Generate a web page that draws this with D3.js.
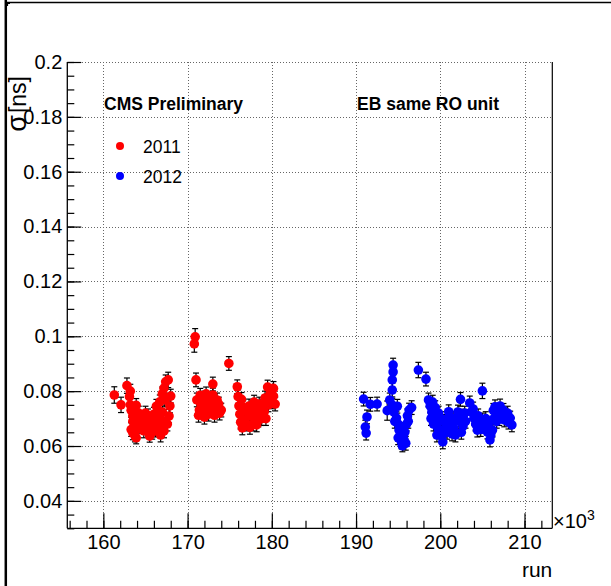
<!DOCTYPE html>
<html>
<head>
<meta charset="utf-8">
<script src="https://cdn.jsdelivr.net/npm/d3@7"></script>
<style>
  body { margin: 0; background: #fff; }
  text { font-family: "Liberation Sans", Arial, Helvetica, sans-serif; }
</style>
</head>
<body>
<div id="chart"></div>
<script>
// Run number (x10^3), sigma [ns], error
var runs2011 = [
  [161.3, 0.0786, 0.0030], [162.1, 0.0750, 0.0028], [162.8, 0.0820, 0.0028], [163.2, 0.0800, 0.0025],
  [163.1, 0.0780, 0.0025], [163.2, 0.0750, 0.0025], [163.3, 0.0730, 0.0025], [163.5, 0.0710, 0.0025],
  [163.5, 0.0690, 0.0025], [163.65, 0.0666, 0.0025], [163.5, 0.0648, 0.0025], [163.75, 0.0637, 0.0022],
  [164.0, 0.0695, 0.0025], [164.0, 0.0660, 0.0025], [164.6, 0.0700, 0.0025], [165.05, 0.0680, 0.0025],
  [165.3, 0.0710, 0.0025], [165.5, 0.0636, 0.0022], [165.5, 0.0666, 0.0025], [165.8, 0.0694, 0.0025],
  [166.0, 0.0716, 0.0025], [166.1, 0.0680, 0.0025], [166.2, 0.0658, 0.0025], [166.5, 0.0700, 0.0025],
  [166.5, 0.0731, 0.0025], [166.7, 0.0673, 0.0025], [166.7, 0.0761, 0.0025], [167.0, 0.0724, 0.0025],
  [167.0, 0.0790, 0.0025], [167.2, 0.0811, 0.0025], [167.4, 0.0834, 0.0025], [167.7, 0.0841, 0.0028],
  [167.3, 0.0768, 0.0025], [167.9, 0.0746, 0.0025], [167.8, 0.0709, 0.0025], [168.0, 0.0782, 0.0025],
  [167.6, 0.0680, 0.0025], [164.3, 0.0672, 0.0025], [164.8, 0.0655, 0.0025], [165.0, 0.0720, 0.0025],
  [165.8, 0.0650, 0.0025], [166.3, 0.0745, 0.0025], [166.9, 0.0695, 0.0025], [164.2, 0.0720, 0.0025],
  [163.9, 0.0748, 0.0025], [165.2, 0.0690, 0.0025], [166.0, 0.0665, 0.0025], [167.2, 0.0655, 0.0025],
  [163.3, 0.0660, 0.0025], [163.9, 0.0630, 0.0022], [166.8, 0.0640, 0.0025],
  [170.9, 0.0998, 0.0030], [170.8, 0.0972, 0.0030], [171.0, 0.0841, 0.0025], [171.1, 0.0768, 0.0025],
  [171.4, 0.0731, 0.0025], [171.6, 0.0753, 0.0025], [171.8, 0.0724, 0.0025], [172.0, 0.0775, 0.0025],
  [172.3, 0.0746, 0.0025], [172.5, 0.0716, 0.0025], [172.8, 0.0761, 0.0025], [173.0, 0.0826, 0.0025],
  [173.0, 0.0786, 0.0025], [173.3, 0.0739, 0.0025], [173.5, 0.0768, 0.0025], [173.7, 0.0753, 0.0025],
  [174.0, 0.0731, 0.0025], [174.9, 0.0901, 0.0025], [171.3, 0.0712, 0.0025], [172.0, 0.0705, 0.0025],
  [172.6, 0.0735, 0.0025], [173.2, 0.0712, 0.0025], [173.8, 0.0720, 0.0025], [171.5, 0.0785, 0.0025],
  [172.2, 0.0790, 0.0025],
  [175.9, 0.0816, 0.0025], [176.0, 0.0780, 0.0025], [176.1, 0.0746, 0.0025], [176.2, 0.0716, 0.0025],
  [176.3, 0.0687, 0.0025], [176.5, 0.0666, 0.0025], [176.8, 0.0695, 0.0025], [177.1, 0.0724, 0.0025],
  [177.3, 0.0746, 0.0025], [177.5, 0.0709, 0.0025], [177.8, 0.0680, 0.0025], [178.0, 0.0702, 0.0025],
  [178.2, 0.0677, 0.0025], [178.2, 0.0731, 0.0025], [178.5, 0.0753, 0.0025], [178.7, 0.0724, 0.0025],
  [178.9, 0.0746, 0.0025], [179.2, 0.0775, 0.0025], [179.5, 0.0815, 0.0025], [179.8, 0.0790, 0.0025],
  [180.0, 0.0761, 0.0025], [180.2, 0.0810, 0.0025], [180.2, 0.0782, 0.0025], [180.4, 0.0753, 0.0025],
  [176.6, 0.0740, 0.0025], [177.0, 0.0680, 0.0025], [177.4, 0.0668, 0.0025], [177.7, 0.0735, 0.0025],
  [178.4, 0.0695, 0.0025], [178.8, 0.0700, 0.0025], [179.1, 0.0725, 0.0025], [179.6, 0.0750, 0.0025],
  [176.4, 0.0770, 0.0025], [177.9, 0.0760, 0.0025], [179.3, 0.0700, 0.0025]
];

var runs2012 = [
  [190.9, 0.0771, 0.0025], [191.3, 0.0706, 0.0025], [191.1, 0.0669, 0.0025], [191.2, 0.0647, 0.0025],
  [191.7, 0.0752, 0.0025], [192.5, 0.0753, 0.0025], [193.7, 0.0729, 0.0035], [194.0, 0.0768, 0.0025],
  [194.3, 0.0804, 0.0025], [194.3, 0.0841, 0.0025], [194.4, 0.0870, 0.0025], [194.4, 0.0895, 0.0025],
  [194.3, 0.0749, 0.0025], [194.5, 0.0724, 0.0025], [194.8, 0.0702, 0.0025], [195.0, 0.0680, 0.0025],
  [195.1, 0.0658, 0.0025], [195.2, 0.0636, 0.0025], [195.4, 0.0615, 0.0025], [195.5, 0.0601, 0.0022],
  [195.7, 0.0622, 0.0025], [195.8, 0.0651, 0.0025], [196.0, 0.0680, 0.0025], [196.1, 0.0710, 0.0025],
  [196.3, 0.0731, 0.0025], [196.6, 0.0740, 0.0025], [197.4, 0.0877, 0.0028], [198.3, 0.0844, 0.0025],
  [194.6, 0.0690, 0.0025], [195.0, 0.0630, 0.0025], [195.3, 0.0660, 0.0025], [195.6, 0.0640, 0.0025],
  [195.9, 0.0610, 0.0025], [196.2, 0.0690, 0.0025], [194.9, 0.0745, 0.0025],
  [198.6, 0.0768, 0.0025], [198.8, 0.0746, 0.0025], [199.0, 0.0724, 0.0025], [199.3, 0.0702, 0.0025],
  [199.5, 0.0680, 0.0025], [199.7, 0.0665, 0.0025], [200.0, 0.0651, 0.0025], [200.2, 0.0636, 0.0025],
  [200.5, 0.0658, 0.0025], [200.7, 0.0680, 0.0025], [200.9, 0.0702, 0.0025], [201.2, 0.0673, 0.0025],
  [201.4, 0.0644, 0.0025], [201.6, 0.0666, 0.0025], [201.9, 0.0695, 0.0025], [202.1, 0.0724, 0.0025],
  [202.4, 0.0770, 0.0025], [202.6, 0.0709, 0.0025], [202.7, 0.0673, 0.0025], [203.0, 0.0690, 0.0025],
  [199.1, 0.0760, 0.0025], [199.4, 0.0740, 0.0025], [199.8, 0.0720, 0.0025], [200.1, 0.0700, 0.0025],
  [200.4, 0.0690, 0.0025], [199.6, 0.0640, 0.0025], [200.3, 0.0615, 0.0025], [200.8, 0.0650, 0.0025],
  [201.0, 0.0725, 0.0025], [201.5, 0.0700, 0.0025], [201.8, 0.0640, 0.0025], [202.3, 0.0690, 0.0025],
  [202.9, 0.0720, 0.0025], [202.5, 0.0650, 0.0025], [199.2, 0.0680, 0.0025], [198.9, 0.0700, 0.0025],
  [203.5, 0.0757, 0.0025], [203.7, 0.0724, 0.0025], [204.0, 0.0702, 0.0025], [204.2, 0.0680, 0.0025],
  [204.4, 0.0658, 0.0025], [204.6, 0.0690, 0.0025], [205.0, 0.0801, 0.0028], [205.0, 0.0695, 0.0025],
  [205.2, 0.0673, 0.0025], [205.6, 0.0651, 0.0025], [205.9, 0.0622, 0.0025], [206.2, 0.0658, 0.0025],
  [206.4, 0.0702, 0.0025], [206.5, 0.0743, 0.0025], [206.9, 0.0724, 0.0025], [207.1, 0.0746, 0.0025],
  [207.3, 0.0716, 0.0025], [207.6, 0.0695, 0.0025], [207.8, 0.0709, 0.0025], [208.1, 0.0687, 0.0025],
  [208.3, 0.0702, 0.0025], [208.5, 0.0677, 0.0025], [203.9, 0.0735, 0.0025], [204.5, 0.0710, 0.0025],
  [204.8, 0.0660, 0.0025], [205.4, 0.0700, 0.0025], [205.7, 0.0680, 0.0025], [206.0, 0.0640, 0.0025],
  [206.7, 0.0690, 0.0025], [207.0, 0.0700, 0.0025], [207.5, 0.0730, 0.0025], [208.0, 0.0720, 0.0025],
  [206.3, 0.0730, 0.0025]
];

var series = [
  { name: "2011", color: "#ff0000", points: runs2011 },
  { name: "2012", color: "#0000ff", points: runs2012 }
];

var xMajorTicks = [160, 170, 180, 190, 200, 210];
var yMajorTicks = [0.04, 0.06, 0.08, 0.1, 0.12, 0.14, 0.16, 0.18, 0.2];

var W = 611, H = 586;
var frame = { left: 67.3, right: 552.3, top: 62, bottom: 528.3 };

var svg = d3.select("#chart").append("svg")
  .attr("width", W).attr("height", H);

// canvas border pieces
svg.append("line").attr("x1", 5.8).attr("x2", 5.8).attr("y1", 0).attr("y2", H)
  .attr("stroke", "#000").attr("stroke-width", 2.5);
svg.append("line").attr("x1", 5).attr("x2", W).attr("y1", 2.5).attr("y2", 2.5)
  .attr("stroke", "#000").attr("stroke-width", 1.5);
svg.append("path").attr("d", "M5,3.5 h5 M7.5,3 v3")
  .attr("stroke", "#000").attr("stroke-width", 1.2).attr("fill", "none");

var x = d3.scaleLinear().domain([155.72, 213.3]).range([frame.left, frame.right]);
var y = d3.scaleLinear().domain([0.03, 0.2]).range([frame.bottom, frame.top]);

// grid
var grid = svg.append("g").attr("stroke", "#666").attr("stroke-width", 1)
  .attr("stroke-dasharray", "1,2").attr("shape-rendering", "crispEdges");
grid.selectAll(".gx").data(xMajorTicks).enter().append("line")
  .attr("x1", d => Math.round(x(d)) + 0.5).attr("x2", d => Math.round(x(d)) + 0.5)
  .attr("y1", frame.top).attr("y2", frame.bottom);
grid.selectAll(".gy").data(yMajorTicks).enter().append("line")
  .attr("x1", frame.left).attr("x2", frame.right)
  .attr("y1", d => Math.round(y(d)) + 0.5).attr("y2", d => Math.round(y(d)) + 0.5);

// right frame edge
svg.append("line").attr("x1", frame.right).attr("x2", frame.right)
  .attr("y1", frame.top).attr("y2", frame.bottom)
  .attr("stroke", "#000").attr("stroke-width", 1.2);

// x axis (ticks pointing inside)
var xAxis = d3.axisBottom(x).tickValues(xMajorTicks).tickSize(-15).tickPadding(7)
  .tickFormat(d3.format("d"));
var xMinor = d3.axisBottom(x).tickValues(d3.range(156, 213.3, 2)).tickSize(-7.5).tickFormat("");
var gxm = svg.append("g").attr("transform", "translate(0," + frame.bottom + ")").call(xMinor);
var gx = svg.append("g").attr("transform", "translate(0," + frame.bottom + ")").call(xAxis);

// y axis
var yAxis = d3.axisLeft(y).tickValues(yMajorTicks).tickSize(-14).tickPadding(5)
  .tickFormat(d => d3.format("")(+d.toFixed(2)));
var yMinor = d3.axisLeft(y).tickValues(d3.range(0.03, 0.2001, 0.005)).tickSize(-7).tickFormat("");
var gym = svg.append("g").attr("transform", "translate(" + frame.left + ",0)").call(yMinor);
var gy = svg.append("g").attr("transform", "translate(" + frame.left + ",0)").call(yAxis);

[gx, gxm, gy, gym].forEach(function(g) {
  g.select(".domain").attr("d", null);
  g.selectAll(".tick line").attr("stroke", "#000").attr("stroke-width", 1.2);
  g.selectAll(".tick text").attr("font-size", 20).attr("fill", "#000")
    .style("font-family", "'Liberation Sans', Arial, sans-serif");
});
svg.append("line").attr("x1", frame.left).attr("x2", frame.right)
  .attr("y1", frame.bottom).attr("y2", frame.bottom).attr("stroke", "#000").attr("stroke-width", 1.3);
svg.append("line").attr("x1", frame.left).attr("x2", frame.left)
  .attr("y1", frame.top).attr("y2", frame.bottom).attr("stroke", "#000").attr("stroke-width", 1.3);

// axis titles
var xm = svg.append("text").attr("x", 553).attr("y", 528).attr("font-size", 20);
xm.append("tspan").text("\u00d710");
xm.append("tspan").attr("dy", -8).attr("font-size", 14).text("3");

svg.append("text").attr("x", frame.right).attr("y", 577)
  .attr("text-anchor", "end").attr("font-size", 21).text("run");

var yt = svg.append("text")
  .attr("transform", "translate(26,76) rotate(-90)")
  .attr("text-anchor", "end").attr("font-size", 23);
yt.append("tspan").attr("font-size", 27).text("\u03c3");
yt.append("tspan").attr("dx", 2).text("[ns]");

// labels
svg.append("text").attr("x", 104).attr("y", 110).attr("font-size", 17.5)
  .attr("font-weight", "bold").text("CMS Preliminary");
svg.append("text").attr("x", 357).attr("y", 110).attr("font-size", 17.5)
  .attr("font-weight", "bold").text("EB same RO unit");

// legend
var legend = svg.append("g");
series.forEach(function(s, i) {
  legend.append("circle").attr("cx", 120).attr("cy", 146 + i * 30).attr("r", 4)
    .attr("fill", s.color);
  legend.append("text").attr("x", 143).attr("y", 153 + i * 30).attr("font-size", 17.5)
    .text(s.name);
});

// data: error bars then markers
var plot = svg.append("g");
series.forEach(function(s) {
  var g = plot.append("g");
  var eb = g.selectAll(".err").data(s.points).enter().append("g")
    .attr("stroke", "#000").attr("stroke-width", 1.2);
  eb.append("line")
    .attr("x1", d => x(d[0])).attr("x2", d => x(d[0]))
    .attr("y1", d => y(d[1] - d[2])).attr("y2", d => y(d[1] + d[2]));
  eb.append("line")
    .attr("x1", d => x(d[0]) - 3).attr("x2", d => x(d[0]) + 3)
    .attr("y1", d => y(d[1] - d[2])).attr("y2", d => y(d[1] - d[2]));
  eb.append("line")
    .attr("x1", d => x(d[0]) - 3).attr("x2", d => x(d[0]) + 3)
    .attr("y1", d => y(d[1] + d[2])).attr("y2", d => y(d[1] + d[2]));
});
series.forEach(function(s) {
  plot.append("g").selectAll("circle").data(s.points).enter().append("circle")
    .attr("cx", d => x(d[0])).attr("cy", d => y(d[1])).attr("r", 4.8)
    .attr("fill", s.color);
});
</script>
</body>
</html>
